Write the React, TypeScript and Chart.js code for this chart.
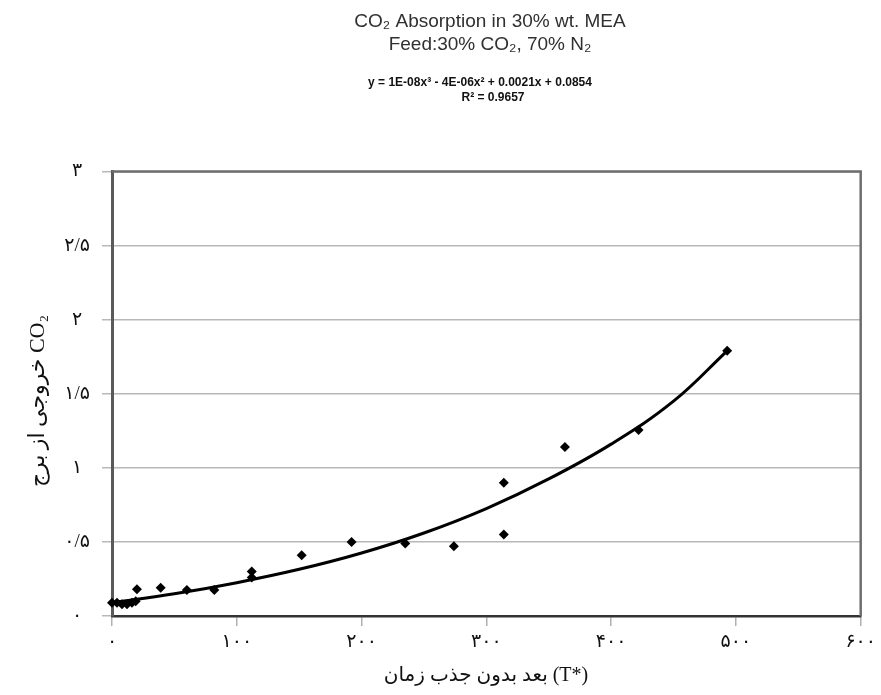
import React, { useEffect, useRef } from "react";
import { Chart, registerables } from "chart.js";

Chart.register(...registerables);

// Measured points: dimensionless absorption time (T*) vs outlet CO2
const TIME_VALUES = [0, 4, 8, 12, 16, 19, 20, 39, 60, 82, 112, 112, 152, 192, 235, 274, 314, 314, 363, 422, 493];
const CO2_VALUES = [0.09, 0.09, 0.08, 0.08, 0.09, 0.1, 0.18, 0.19, 0.175, 0.175, 0.3, 0.26, 0.41, 0.5, 0.49, 0.47, 0.9, 0.55, 1.14, 1.255, 1.79];

// Trend line
const TREND_TIME = [0, 50, 100, 150, 200, 250, 300, 350, 400, 450, 493];
const TREND_CO2 = [0.09, 0.15, 0.225, 0.315, 0.425, 0.56, 0.725, 0.925, 1.16, 1.45, 1.79];

const X_MIN = 0;
const X_MAX = 600;
const X_STEP = 100;
const Y_MIN = 0;
const Y_MAX = 3;
const Y_STEP = 0.5;

const TITLE_LINES = ["CO₂ Absorption in 30% wt. MEA", "Feed:30% CO₂, 70% N₂"];
const EQUATION_LINES = ["y = 1E-08x³ - 4E-06x² + 0.0021x + 0.0854", "R² = 0.9657"];
const X_TITLE = "بعد بدون جذب زمان (T*)";
const Y_TITLE = "خروجی از برج CO₂";

const PERSIAN_DIGITS = "۰۱۲۳۴۵۶۷۸۹";
function toPersian(v: number): string {
  const s = String(Number(v.toFixed(2)));
  return s.replace(/[0-9]/g, (d) => PERSIAN_DIGITS[+d]).replace(".", "/");
}

const SERIF = '"Liberation Serif", "Times New Roman", "DejaVu Sans", serif';
const SANS = '"Liberation Sans", Arial, "DejaVu Sans", sans-serif';

const framePlugin = {
  id: "frame",
  beforeDatasetsDraw(chart: any) {
    const { ctx, chartArea } = chart;
    ctx.save();
    ctx.strokeStyle = "#6e6e6e";
    ctx.lineWidth = 2.5;
    ctx.beginPath();
    ctx.moveTo(chartArea.left, chartArea.top);
    ctx.lineTo(chartArea.right, chartArea.top);
    ctx.lineTo(chartArea.right, chartArea.bottom);
    ctx.stroke();
    ctx.restore();
  },
};

const textPlugin = {
  id: "texts",
  afterDraw(chart: any) {
    const ctx = chart.ctx;
    ctx.save();
    ctx.textAlign = "center";
    ctx.textBaseline = "middle";
    ctx.fillStyle = "#303030";
    ctx.font = `19px ${SANS}`;
    ctx.fillText(TITLE_LINES[0], 490, 22);
    ctx.fillText(TITLE_LINES[1], 490, 45);
    ctx.fillStyle = "#111";
    ctx.font = `bold 12px ${SANS}`;
    ctx.fillText(EQUATION_LINES[0], 480, 83);
    ctx.fillText(EQUATION_LINES[1], 493, 98);

    ctx.fillStyle = "#111";
    ctx.font = `20px ${SERIF}`;
    ctx.fillText(X_TITLE, 486, 676);

    ctx.save();
    ctx.translate(38, 401);
    ctx.rotate(-Math.PI / 2);
    ctx.font = `22px ${SERIF}`;
    ctx.fillText(Y_TITLE, 0, 0);
    ctx.restore();
    ctx.restore();
  },
};

export default function App() {
  const canvasRef = useRef<HTMLCanvasElement | null>(null);

  useEffect(() => {
    if (!canvasRef.current) return;
    const points = TIME_VALUES.map((t, i) => ({ x: t, y: CO2_VALUES[i] }));
    const trend = TREND_TIME.map((t, i) => ({ x: t, y: TREND_CO2[i] }));
    const chart = new Chart(canvasRef.current, {
      type: "scatter",
      data: {
        datasets: [
          {
            label: "Trend",
            data: trend,
            showLine: true,
            borderColor: "#000",
            borderWidth: 3,
            pointRadius: 0,
            tension: 0.4,
            clip: false,
          } as any,
          {
            label: "CO2",
            data: points,
            pointStyle: "rectRot",
            pointRadius: 5,
            backgroundColor: "#000",
            borderColor: "#000",
            borderWidth: 0,
            clip: false,
          } as any,
        ],
      },
      options: {
        animation: false,
        responsive: false,
        maintainAspectRatio: false,
        events: [],
        layout: { padding: { left: 0, top: 171.5, right: 14.5, bottom: 0 } },
        plugins: {
          legend: { display: false },
          tooltip: { enabled: false },
          title: { display: false },
        },
        scales: {
          x: {
            type: "linear",
            min: X_MIN,
            max: X_MAX,
            afterFit: (scale: any) => {
              scale.height = 79;
            },
            ticks: {
              stepSize: X_STEP,
              padding: 5,
              color: "#111",
              font: { family: SERIF, size: 19 },
              callback: (v: any) => toPersian(Number(v)),
            },
            grid: {
              drawOnChartArea: false,
              drawTicks: true,
              tickLength: 10,
              color: "#b0b0b0",
              lineWidth: 1.5,
            },
            border: { display: true, color: "#333", width: 2.5 },
          },
          y: {
            type: "linear",
            min: Y_MIN,
            max: Y_MAX,
            afterFit: (scale: any) => {
              scale.width = 112;
            },
            ticks: {
              stepSize: Y_STEP,
              padding: 12,
              crossAlign: "center",
              color: "#111",
              font: { family: SERIF, size: 19 },
              callback: (v: any) => toPersian(Number(v)),
            },
            grid: {
              drawOnChartArea: true,
              drawTicks: true,
              tickLength: 10,
              color: "#b8b8b8",
              lineWidth: 1.5,
            },
            border: { display: true, color: "#5a5a5a", width: 3 },
          },
        },
      },
      plugins: [framePlugin, textPlugin],
    });
    return () => chart.destroy();
  }, []);

  return (
    <div style={{ position: "absolute", left: 0, top: 0, width: 881, height: 695, background: "#fff" }}>
      <canvas ref={canvasRef} width={881} height={695} style={{ width: 881, height: 695, display: "block" }} />
    </div>
  );
}
